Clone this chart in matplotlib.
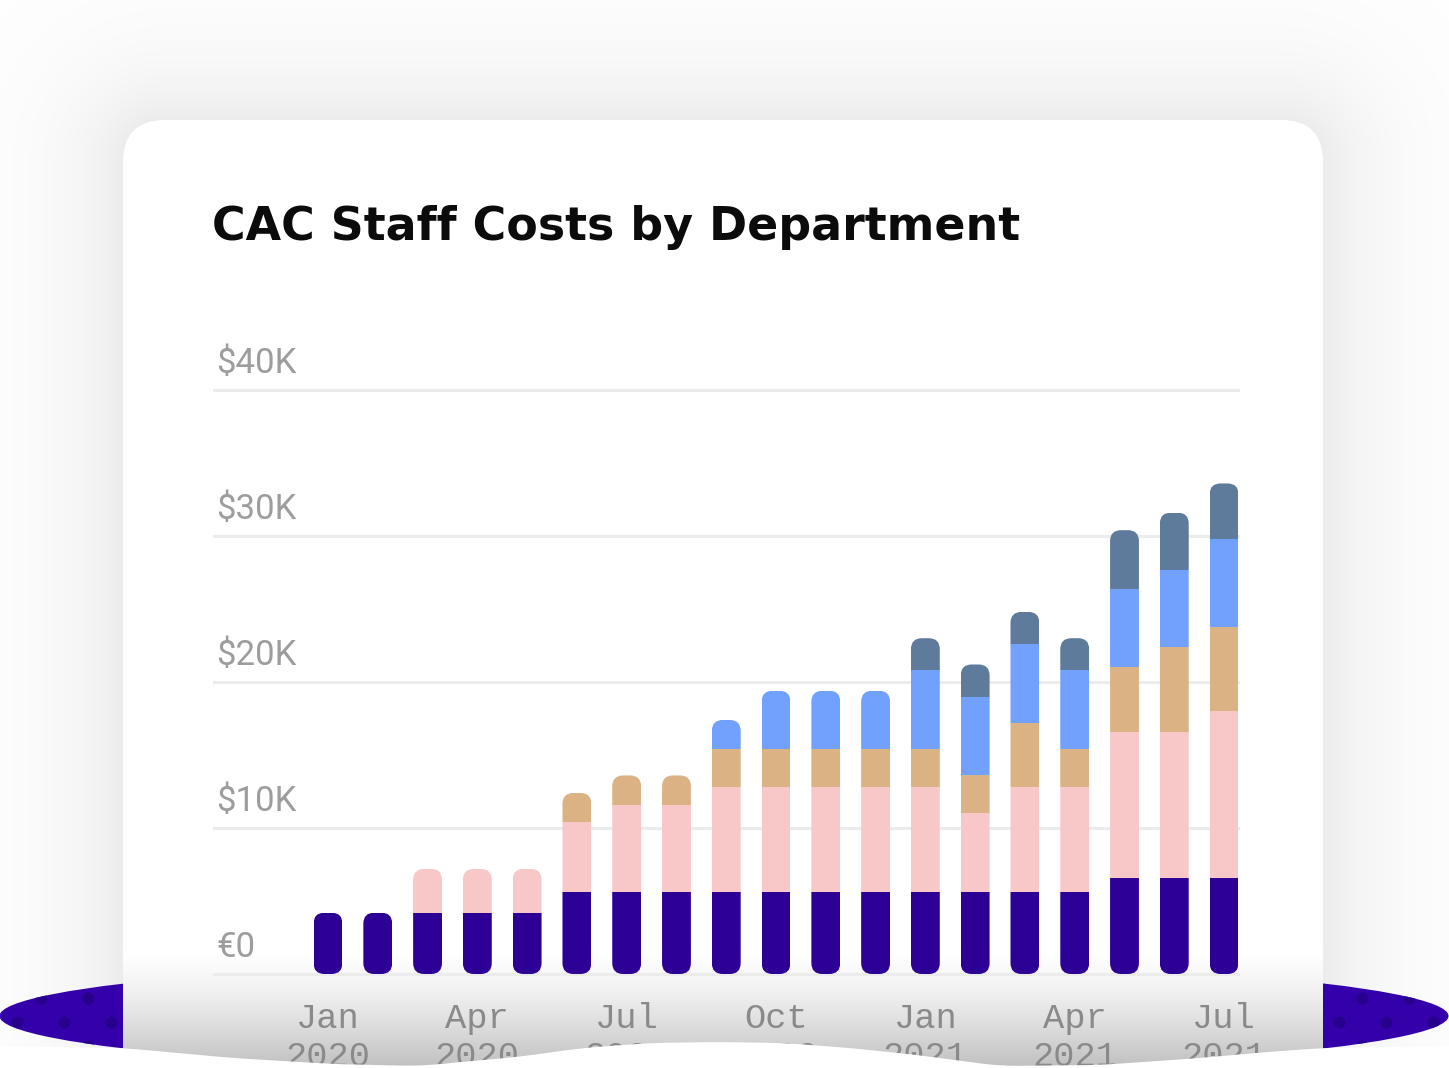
import numpy as np
import matplotlib

matplotlib.use("Agg")
import matplotlib.pyplot as plt
from matplotlib.patches import FancyBboxPatch, Ellipse, Polygon
import matplotlib.transforms as mtransforms

W, H, DPI = 1449, 1068, 100

# monthly staff cost per department, in $K (Jan 2020 .. Jul 2021)
months = ["Jan 2020", "Feb 2020", "Mar 2020", "Apr 2020", "May 2020", "Jun 2020",
          "Jul 2020", "Aug 2020", "Sep 2020", "Oct 2020", "Nov 2020", "Dec 2020",
          "Jan 2021", "Feb 2021", "Mar 2021", "Apr 2021", "May 2021", "Jun 2021",
          "Jul 2021"]
dept1 = [4.2, 4.2, 4.2, 4.2, 4.2, 5.6, 5.6, 5.6, 5.6, 5.6, 5.6, 5.6, 5.6, 5.6, 5.6, 5.6, 6.6, 6.6, 6.6]
dept2 = [0, 0, 3.0, 3.0, 3.0, 4.8, 6.0, 6.0, 7.2, 7.2, 7.2, 7.2, 7.2, 5.4, 7.2, 7.2, 10.0, 10.0, 11.4]
dept3 = [0, 0, 0, 0, 0, 2.0, 2.0, 2.0, 2.6, 2.6, 2.6, 2.6, 2.6, 2.6, 4.4, 2.6, 4.4, 5.8, 5.8]
dept4 = [0, 0, 0, 0, 0, 0, 0, 0, 2.0, 4.0, 4.0, 4.0, 5.4, 5.4, 5.4, 5.4, 5.4, 5.3, 6.0]
dept5 = [0, 0, 0, 0, 0, 0, 0, 0, 0, 0, 0, 0, 2.2, 2.2, 2.2, 2.2, 4.0, 3.9, 3.8]

dept_colors = ["#2d0096", "#f8c8c9", "#dbb283", "#72a0fd", "#5f7b9c"]

tick_idx = [0, 3, 6, 9, 12, 15, 18]
tick_labels = ["Jan\n2020", "Apr\n2020", "Jul\n2020", "Oct\n2020",
               "Jan\n2021", "Apr\n2021", "Jul\n2021"]
y_ticks = [0, 10, 20, 30, 40]
y_labels = ["€0", "$10K", "$20K", "$30K", "$40K"]

fig = plt.figure(figsize=(W / DPI, H / DPI), dpi=DPI)
fig.patch.set_facecolor("white")

# ---- backdrop: shadow, purple blob, card, bottom fade (pixel coords) ----
bg = fig.add_axes([0, 0, 1, 1], zorder=0)
bg.set_xlim(0, W)
bg.set_ylim(H, 0)
bg.axis("off")

cx0, cx1, cy0, cy1, cr = 123, 1323, 120, H + 300, 42
yy, xx = np.mgrid[0:H, 0:W] + 0.5
qx = np.abs(xx - (cx0 + cx1) / 2) - ((cx1 - cx0) / 2 - cr)
qy = np.abs(yy - (cy0 + cy1) / 2) - ((cy1 - cy0) / 2 - cr)
dist = np.hypot(np.maximum(qx, 0), np.maximum(qy, 0)) - cr
shade = np.where(dist > 0, 1 - 0.075 * np.exp(-dist / 60), 1.0)
bg.imshow(np.dstack([shade] * 3), extent=(0, W, H, 0), aspect="auto", zorder=0)

blob = Ellipse((724, 1016), 1449, 116, facecolor="#3300aa", edgecolor="none", zorder=1)
bg.add_patch(blob)
dx, dots_x, dots_y = 47.2, [], []
for row, y in enumerate([974, 998, 1022, 1046]):
    start = 17 if row % 2 == 0 else 40.5
    for x in np.arange(start, W + dx, dx):
        dots_x.append(x)
        dots_y.append(y)
dots = bg.scatter(dots_x, dots_y, s=75, color="#26008c", linewidths=0, zorder=2)
dots.set_clip_path(blob)

card = FancyBboxPatch((cx0, cy0), cx1 - cx0, cy1 - cy0,
                      boxstyle=f"round,pad=0,rounding_size={cr}",
                      facecolor="white", edgecolor="none", zorder=3)
bg.add_patch(card)

fade_top = 950
t = np.clip((np.arange(fade_top, H) + 0.5 - fade_top) / (H - fade_top), 0, 1)
g = 1 - 0.25 * t ** 1.4
fade = np.repeat(g[:, None], 10, axis=1)
bg.imshow(np.dstack([fade] * 3), extent=(cx0, cx1, H, fade_top), aspect="auto", zorder=4)
bg.set_xlim(0, W)
bg.set_ylim(H, 0)

# ---- title ----
fig.text(212 / W, 1 - 240 / H, "CAC Staff Costs by Department", fontsize=33,
         fontweight="bold", family="DejaVu Sans", color="#0b0b0b", va="baseline")

# ---- chart ----
ax = fig.add_axes([214 / W, (H - 974) / H, 1024 / W, 584 / H], zorder=5)
ax.patch.set_alpha(0)
ax.set_xlim(-2.29, 18.28)
ax.set_ylim(0, 40)
for s in ax.spines.values():
    s.set_visible(False)

label_tr = mtransforms.blended_transform_factory(ax.transAxes, ax.transData)
for v, lab in zip(y_ticks, y_labels):
    ax.axhline(v, color="#ececec", lw=2.2, zorder=0, clip_on=False)
    ax.text(0.002, v + 1.15, lab, transform=label_tr, fontsize=25, family="Roboto",
            color="#9d9d9d", va="baseline", ha="left")

ax.set_yticks([])
ax.set_xticks(tick_idx, tick_labels)
ax.tick_params(axis="x", length=0, pad=20, labelsize=25.5, labelcolor="#8a8a8a")
for lbl in ax.get_xticklabels():
    lbl.set_family("Liberation Mono")
    lbl.set_linespacing(1.2)

x = np.arange(len(months))
bar_w = 0.58
series = [dept1, dept2, dept3, dept4, dept5]
totals = np.sum(series, axis=0)

# rounded caps: clip each stacked column to a pill-shaped box
pos = ax.get_position()
x_per_px = (ax.get_xlim()[1] - ax.get_xlim()[0]) / (pos.width * W)
y_per_px = (ax.get_ylim()[1] - ax.get_ylim()[0]) / (pos.height * H)
radius = 11 * x_per_px
clips = []
for i in range(len(x)):
    clip = FancyBboxPatch((x[i] - bar_w / 2, 0), bar_w, totals[i],
                          boxstyle=f"round,pad=0,rounding_size={radius}",
                          mutation_aspect=y_per_px / x_per_px, transform=ax.transData)
    clips.append(clip)

bottom = np.zeros(len(x))
for vals, c in zip(series, dept_colors):
    bars = ax.bar(x, vals, bottom=bottom, width=bar_w, color=c, linewidth=0, zorder=2)
    for i, rect in enumerate(bars):
        rect.set_clip_path(clips[i])
    bottom += np.array(vals)

# ---- torn bottom edge ----
top = fig.add_axes([0, 0, 1, 1], zorder=10)
top.set_xlim(0, W)
top.set_ylim(H, 0)
top.axis("off")
top.patch.set_alpha(0)
wave_px = [0, 123, 233, 333, 420, 450, 517, 583, 650, 717, 783, 850, 917, 1000, 1100, 1200, 1267, 1323, 1449]
wave_py = [1046, 1048, 1058, 1064, 1066, 1063, 1057, 1048, 1043, 1042, 1043, 1048, 1055, 1066, 1065, 1058, 1052, 1048, 1046]
wx = np.arange(0, W + 1)
wy = np.interp(wx, wave_px, wave_py)
k = 41
wy = np.convolve(np.pad(wy, k // 2, mode="edge"), np.ones(k) / k, mode="valid")
poly = np.column_stack([np.r_[wx, W, 0], np.r_[wy, H + 20, H + 20]])
top.add_patch(Polygon(poly, closed=True, facecolor="white", edgecolor="none"))

fig.savefig("out.png", dpi=DPI)
